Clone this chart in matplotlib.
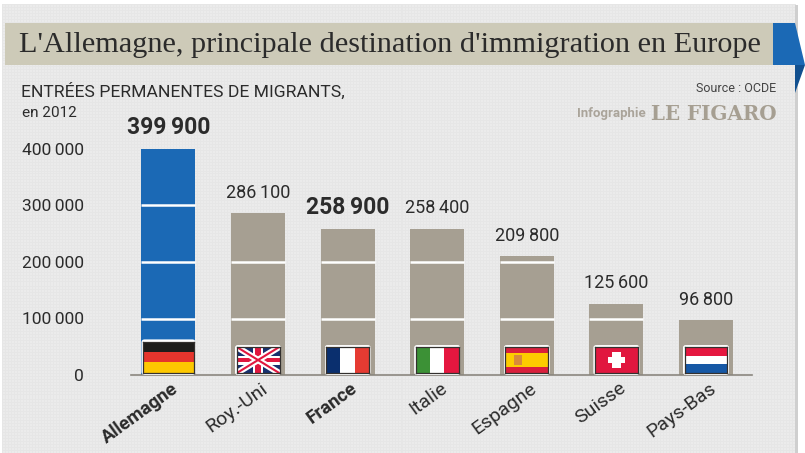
import numpy as np
import matplotlib
matplotlib.use("Agg")
import matplotlib.pyplot as plt
from matplotlib.patches import Rectangle, Polygon, FancyBboxPatch
from matplotlib.transforms import ScaledTranslation

countries = ["Allemagne", "Roy.-Uni", "France", "Italie", "Espagne", "Suisse", "Pays-Bas"]
values = [399900, 286100, 258900, 258400, 209800, 125600, 96800]
value_labels = ["399\u2009900", "286\u2009100", "258\u2009900", "258\u2009400", "209\u2009800", "125\u2009600", "96\u2009800"]
highlight = ["Allemagne", "France"]
y_ticks = [0, 100000, 200000, 300000, 400000]
y_tick_labels = ["0", "100\u2009000", "200\u2009000", "300\u2009000", "400\u2009000"]

W, H = 805, 453
FONT = ["Roboto", "DejaVu Sans"]
INK = "#2b2b2b"
BLUE = "#1b69b5"
TAUPE = "#a69f92"
BAR_W = 0.603

fig = plt.figure(figsize=(W / 100, H / 100), dpi=100, facecolor="white")

# page background, pixel coordinates
bg = fig.add_axes([0, 0, 1, 1], zorder=0)
bg.set_xlim(0, W)
bg.set_ylim(H, 0)
bg.axis("off")
tile = np.full((H, 793), 0.918)
tile[::3, :] = 0.902
tile[:, ::3] = 0.902
bg.imshow(tile, cmap="gray", vmin=0, vmax=1, extent=(2, 795, H, 4), aspect="auto", interpolation="nearest")
bg.set_xlim(0, W)
bg.set_ylim(H, 0)
bg.add_patch(Rectangle((795, 5), 2.5, H, color="#cfcfcf", lw=0))
bg.add_patch(Rectangle((5, 23), 768, 42, color="#cdcab8", lw=0))
bg.add_patch(Polygon([(773, 23), (795, 23), (805, 65), (773, 65)], color=BLUE, lw=0))
bg.add_patch(Polygon([(795, 65), (805, 65), (795, 93)], color="#12508f", lw=0))
bg.text(19, 44.5, "L'Allemagne, principale destination d'immigration en Europe",
        family="Liberation Serif", fontsize=21.8, color=INK, va="center", ha="left")
bg.text(21, 91, "ENTRÉES PERMANENTES DE MIGRANTS,", family=FONT, fontsize=12.6, color=INK, va="center")
bg.text(22, 113, "en 2012", family=FONT, fontsize=11, color=INK, va="center")
bg.text(776, 89, "Source : OCDE", family=FONT, fontsize=9, color="#444444", va="center", ha="right")
bg.text(646, 114, "Infographie", family=FONT, fontsize=9.5, weight="bold", color="#aaa49a", va="center", ha="right")
bg.text(777, 114, "LE FIGARO", family="DejaVu Serif", fontsize=14.3, weight="bold", color=TAUPE, va="center", ha="right")

# chart, bars go through the data axes
ax = fig.add_axes([131 / W, (H - 375) / H, 621 / W, 226 / H], zorder=1)
ax.patch.set_alpha(0)
x = np.arange(len(countries))
colors = [BLUE if c == "Allemagne" else TAUPE for c in countries]
ax.bar(x, values, width=BAR_W, color=colors, linewidth=0, zorder=2)
for i, v in enumerate(values):
    for t in y_ticks[1:]:
        if t < v:
            ax.hlines(t, i - BAR_W / 2, i + BAR_W / 2, color="white", lw=1.8, zorder=3)
    bold = countries[i] in highlight
    ax.annotate(value_labels[i], (i, v), xytext=(0, 7 if bold else 8.5), textcoords="offset points",
                ha="center", va="bottom", family=FONT, color=INK,
                fontsize=16.5 if bold else 13, weight="bold" if bold else "normal")
ax.set_xlim(-0.418, 6.513)
ax.set_ylim(0, 400000)
for s in ["top", "right", "left"]:
    ax.spines[s].set_visible(False)
ax.spines["bottom"].set_color("#8a867e")
ax.spines["bottom"].set_linewidth(1.2)
ax.set_yticks(y_ticks, y_tick_labels, family=FONT, fontsize=12.5, color=INK)
ax.tick_params(axis="y", length=0, pad=34)
ax.set_xticks(x, countries, family=FONT, fontsize=14, color=INK, rotation=36, ha="right", rotation_mode="anchor")
ax.tick_params(axis="x", length=0, pad=3)
shift = ScaledTranslation(2 / 72, 0, fig.dpi_scale_trans)
for lab in ax.get_xticklabels():
    lab.set_transform(lab.get_transform() + shift)
    if lab.get_text() in highlight:
        lab.set_fontweight("bold")
        lab.set_fontsize(13.5)


def stripes(f, cols, vertical=False):
    n = len(cols)
    for k, c in enumerate(cols):
        if vertical:
            f.add_patch(Rectangle((k / n, 0), 1 / n, 1, color=c, lw=0))
        else:
            f.add_patch(Rectangle((0, 1 - (k + 1) / n), 1, 1 / n, color=c, lw=0))


def draw_flag(f, name):
    if name == "Allemagne":
        stripes(f, ["#1d1d1b", "#e5352d", "#fdc800"])
    elif name == "France":
        stripes(f, ["#0a2f6e", "white", "#e63b32"], vertical=True)
    elif name == "Italie":
        stripes(f, ["#3c9136", "white", "#e5173f"], vertical=True)
    elif name == "Pays-Bas":
        stripes(f, ["#e5173f", "white", "#1658a5"])
    elif name == "Espagne":
        f.add_patch(Rectangle((0, 0), 1, 1, color="#d91f3c", lw=0))
        f.add_patch(Rectangle((0, 0.25), 1, 0.5, color="#fdcc00", lw=0))
        f.add_patch(Rectangle((0.2, 0.33), 0.18, 0.36, color="#d98a3a", lw=0))
    elif name == "Suisse":
        f.add_patch(Rectangle((0, 0), 1, 1, color="#e1173f", lw=0))
        f.add_patch(Rectangle((0.31, 0.39), 0.38, 0.22, color="white", lw=0))
        f.add_patch(Rectangle((0.39, 0.2), 0.22, 0.6, color="white", lw=0))
    elif name == "Roy.-Uni":
        f.add_patch(Rectangle((0, 0), 1, 1, color="#17306e", lw=0))
        f.plot([0, 1], [0, 1], color="white", lw=4.5, solid_capstyle="butt")
        f.plot([0, 1], [1, 0], color="white", lw=4.5, solid_capstyle="butt")
        f.plot([0, 1], [0, 1], color="#e0173f", lw=1.5, solid_capstyle="butt")
        f.plot([0, 1], [1, 0], color="#e0173f", lw=1.5, solid_capstyle="butt")
        f.add_patch(Rectangle((0.39, 0), 0.22, 1, color="white", lw=0))
        f.add_patch(Rectangle((0, 0.33), 1, 0.34, color="white", lw=0))
        f.add_patch(Rectangle((0.44, 0), 0.12, 1, color="#e0173f", lw=0))
        f.add_patch(Rectangle((0, 0.41), 1, 0.18, color="#e0173f", lw=0))


# flags sit on the baseline of each bar
for i, name in enumerate(countries):
    big = name == "Allemagne"
    fw = BAR_W if big else 0.515
    fh = 63000 if big else 53000
    box = ax.inset_axes([i - fw / 2, 0, fw, fh], transform=ax.transData, zorder=4)
    box.set_xlim(0, 1)
    box.set_ylim(0, 1)
    box.axis("off")
    box.add_patch(FancyBboxPatch((0, 0), 1, 1, boxstyle="round,pad=0,rounding_size=0.06", fc="white", ec="none", mutation_aspect=1.5))
    inner = box.inset_axes([0.035, 0.06, 0.93, 0.88], zorder=5)
    inner.set_xlim(0, 1)
    inner.set_ylim(0, 1)
    inner.set_xticks([])
    inner.set_yticks([])
    for sp in inner.spines.values():
        sp.set_color("#33302e")
        sp.set_linewidth(0.9)
    draw_flag(inner, name)

fig.savefig("out.png", dpi=100)
